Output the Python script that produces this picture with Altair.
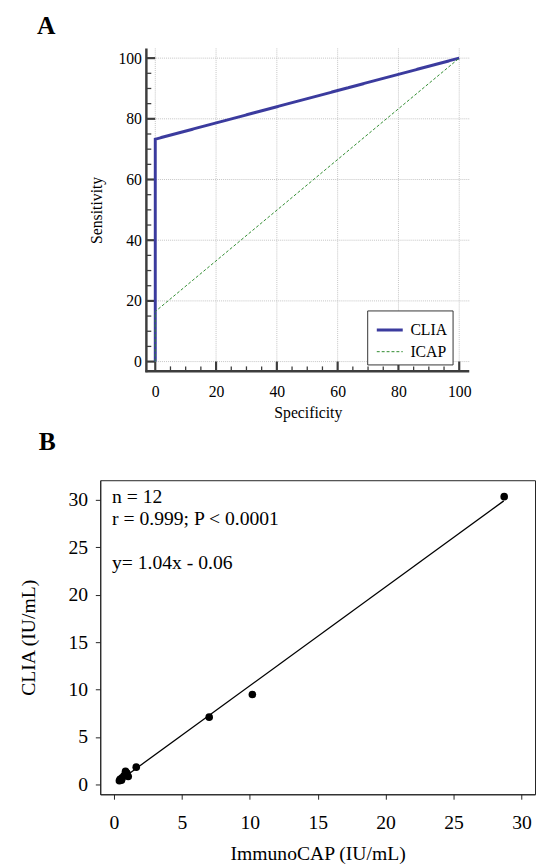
import altair as alt
import pandas as pd

SERIF = "Liberation Serif"

# ---------------- Panel A data (ROC curves) ----------------
roc_series = ["CLIA", "CLIA", "CLIA", "ICAP", "ICAP", "ICAP"]
roc_order = [0, 1, 2, 0, 1, 2]
roc_spec = [0, 0, 100, 0, 0, 100]
roc_sens = [0, 73.3, 100, 0, 16.5, 100]

a_major = [0, 20, 40, 60, 80, 100]
a_minor = [5, 10, 15, 25, 30, 35, 45, 50, 55, 65, 70, 75, 85, 90, 95]

# ---------------- Panel B data (scatter) ----------------
icap_vals = [0.40, 0.45, 0.55, 0.60, 0.75, 0.85, 0.95, 1.05, 1.64, 7.01, 10.19, 28.73]
clia_vals = [0.40, 0.55, 0.45, 0.70, 0.95, 1.40, 1.20, 0.85, 1.83, 7.10, 9.49, 30.34]
b_ticks = [0, 5, 10, 15, 20, 25, 30]
annot_texts = ["n = 12", "r = 0.999; P < 0.0001", "y= 1.04x - 0.06"]

# ---------------- Panel A ----------------
W_A, H_A = 376, 329
AX_L = 47          # pixel position of the drawn left axis inside the plot area
xA = alt.Scale(domain=[-18.1, 103.3], nice=False, zero=False)
yA = alt.Scale(domain=[-3.2, 103.2], nice=False, zero=False)
AX_COL = "#3d3d3d"
GRID_COL = "#c4c4c4"

roc_df = pd.DataFrame({"series": roc_series, "order": roc_order,
                       "spec": roc_spec, "sens": roc_sens})
major_df = pd.DataFrame({"v": a_major})
minor_df = pd.DataFrame({"v": a_minor})
one_df = pd.DataFrame({"k": [0]})

ax_x = alt.Axis(values=a_major, domain=False, ticks=False, tickSize=0, grid=False,
                labelFont=SERIF, labelFontSize=16, labelColor="black", labelPadding=13,
                title="Specificity", titleFont=SERIF, titleFontSize=16,
                titleFontWeight="normal", titleColor="black", titlePadding=5,
                titleX=211.5)
ax_y = alt.Axis(values=a_major, domain=False, ticks=False, tickSize=0, grid=False,
                offset=-AX_L, labelFont=SERIF, labelFontSize=16, labelColor="black",
                labelPadding=5, title="Sensitivity", titleFont=SERIF, titleFontSize=16,
                titleFontWeight="normal", titleColor="black", titlePadding=14)


def xa(field):
    return alt.X(field, scale=xA, axis=ax_x, title="Specificity")


def ya(field):
    return alt.Y(field, scale=yA, axis=ax_y, title="Sensitivity")


vgrid = alt.Chart(major_df).mark_rule(color=GRID_COL, strokeDash=[1, 1], strokeWidth=1).encode(
    x=xa("v:Q"), y=alt.value(0), y2=alt.value(H_A))
hgrid = alt.Chart(major_df).mark_rule(color=GRID_COL, strokeDash=[1, 1], strokeWidth=1).encode(
    y=ya("v:Q"), x=alt.value(AX_L), x2=alt.value(W_A))

xmaj = alt.Chart(major_df).mark_rule(color=AX_COL, strokeWidth=2.2).encode(
    x=xa("v:Q"), y=alt.value(H_A), y2=alt.value(H_A - 10))
xmin = alt.Chart(minor_df).mark_rule(color=AX_COL, strokeWidth=1.3).encode(
    x=xa("v:Q"), y=alt.value(H_A), y2=alt.value(H_A - 5))
ymaj = alt.Chart(major_df).mark_rule(color=AX_COL, strokeWidth=2.2).encode(
    y=ya("v:Q"), x=alt.value(AX_L), x2=alt.value(AX_L + 9))
ymin = alt.Chart(minor_df).mark_rule(color=AX_COL, strokeWidth=1.3).encode(
    y=ya("v:Q"), x=alt.value(AX_L), x2=alt.value(AX_L + 5))
xline = alt.Chart(one_df).mark_rule(color=AX_COL, strokeWidth=2.5).encode(
    x=alt.value(AX_L - 1), x2=alt.value(W_A), y=alt.value(H_A))
yline = alt.Chart(one_df).mark_rule(color=AX_COL, strokeWidth=2.5).encode(
    x=alt.value(AX_L), y=alt.value(0), y2=alt.value(H_A + 1))

leg = alt.Legend(title=None, orient="none", legendX=272, legendY=267,
                 symbolType="stroke", symbolSize=700, symbolOffset=3,
                 labelFont=SERIF, labelFontSize=16, labelColor="black", labelOffset=6,
                 labelExpr="datum.label + '   '",
                 rowPadding=-13, padding=5, strokeColor="#333333", fillColor="white")
dom = ["CLIA", "ICAP"]
roc = alt.Chart(roc_df).mark_line().encode(
    x=xa("spec:Q"),
    y=ya("sens:Q"),
    order="order:Q",
    color=alt.Color("series:N", scale=alt.Scale(domain=dom, range=["#3b3b9e", "#2e8b2e"]), legend=leg),
    strokeDash=alt.StrokeDash("series:N", scale=alt.Scale(domain=dom, range=[[1, 0], [3, 2]]), legend=leg),
    strokeWidth=alt.StrokeWidth("series:N", scale=alt.Scale(domain=dom, range=[3, 1]), legend=leg),
)

label_a = alt.Chart(one_df).mark_text(font=SERIF, fontSize=26, fontWeight="bold",
                                      color="black", align="center", baseline="middle").encode(
    x=alt.value(-55), y=alt.value(-23), text=alt.value("A"))

panel_a = alt.layer(vgrid, hgrid, xmin, ymin, xmaj, ymaj, xline, yline, roc, label_a).properties(
    width=W_A, height=H_A, view=alt.ViewBackground(stroke="transparent"))

# ---------------- Panel B ----------------
W_B, H_B = 443, 320
xB = alt.Scale(domain=[-1.01, 31.0], nice=False, zero=False)
yB = alt.Scale(domain=[-1.03, 32.07], nice=False, zero=False)
b_df = pd.DataFrame({"icap": icap_vals, "clia": clia_vals})

ax_bx = alt.Axis(values=b_ticks, grid=False, domainColor="#222222", domainWidth=1,
                 tickColor="#222222", tickSize=5, tickWidth=1,
                 labelFont=SERIF, labelFontSize=20, labelColor="black", labelPadding=14,
                 title="ImmunoCAP (IU/mL)", titleFont=SERIF, titleFontSize=20,
                 titleFontWeight="normal", titleColor="black", titlePadding=11)
ax_by = alt.Axis(values=b_ticks, grid=False, domainColor="#222222", domainWidth=1,
                 tickColor="#222222", tickSize=5, tickWidth=1,
                 labelFont=SERIF, labelFontSize=20, labelColor="black", labelPadding=8,
                 title="CLIA (IU/mL)", titleFont=SERIF, titleFontSize=20,
                 titleFontWeight="normal", titleColor="black", titlePadding=30)


def xb(field):
    return alt.X(field, scale=xB, axis=ax_bx, title="ImmunoCAP (IU/mL)")


def yb(field):
    return alt.Y(field, scale=yB, axis=ax_by, title="CLIA (IU/mL)")


reg = alt.Chart(b_df).transform_regression(
    "icap", "clia", method="linear", extent=[0.4, 28.7]
).mark_line(color="black", strokeWidth=1.3).encode(x=xb("icap:Q"), y=yb("clia:Q"))
pts = alt.Chart(b_df).mark_circle(size=60, color="black", opacity=1).encode(
    x=xb("icap:Q"), y=yb("clia:Q"))

annot_y = [17, 39.5, 84]
annots = [
    alt.Chart(one_df).mark_text(font=SERIF, fontSize=20, color="black", align="left",
                                baseline="middle").encode(
        x=alt.value(12), y=alt.value(yy), text=alt.value(tt))
    for tt, yy in zip(annot_texts, annot_y)
]

label_b = alt.Chart(one_df).mark_text(font=SERIF, fontSize=26, fontWeight="bold",
                                      color="black", align="center", baseline="middle").encode(
    x=alt.value(-54), y=alt.value(-39), text=alt.value("B"))

panel_b = alt.layer(reg, pts, *annots, label_b).properties(
    width=W_B, height=H_B, view=alt.ViewBackground(stroke="#222222", strokeWidth=1))

chart = alt.vconcat(panel_a, panel_b, spacing=7).properties(
    padding={"left": 10, "top": -4, "right": 0, "bottom": 0}
).configure(font=SERIF).configure_axis(
    labelFont=SERIF, titleFont=SERIF, labelColor="black", titleColor="black"
).configure_legend(labelFont=SERIF).configure_text(font=SERIF)

chart.save("out.html", embed_options={"renderer": "svg", "actions": False})
